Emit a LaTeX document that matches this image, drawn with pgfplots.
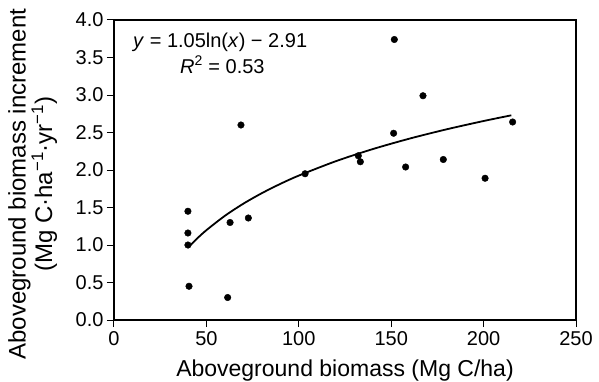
\documentclass[border=0pt]{standalone}
\usepackage{pgfplots}
\pgfplotsset{compat=1.18}
\usepackage{fontspec}
\setmainfont{Liberation Sans}
\begin{document}
\begin{tikzpicture}
\begin{axis}[
 scale only axis, width=462pt, height=300pt,
 xmin=0, xmax=250, ymin=0, ymax=4,
 xtick={0,50,...,250}, ytick={0,0.5,...,4},
 tick align=outside, tick pos=left, major tick length=7pt,
 axis line style={line width=1.1pt}, tick style={line width=1pt, black},
 ticklabel style={font=\fontsize{20}{22}\selectfont},
 xticklabel style={yshift=-1pt},
 /pgf/number format/assume math mode=true,
 yticklabel style={/pgf/number format/.cd,fixed,fixed zerofill,precision=1},
 xlabel={Aboveground biomass (Mg C/ha)},
 ylabel={Aboveground biomass increment\\(Mg C·ha\textsuperscript{−1}·yr\textsuperscript{−1})},
 xlabel style={font=\fontsize{23}{26}\selectfont, at={(axis description cs:0.5,-0.1867)}, anchor=base},
 ylabel style={font=\fontsize{24}{25}\selectfont, align=center, at={(axis description cs:-0.176,0.453)}, anchor=center},
 clip=false
]
\addplot[only marks, mark=*, mark size=3.3pt, black] coordinates {
 (40.0,1.45) (40.0,1.16) (40.0,1.00) (40.6,0.45) (61.5,0.30) (62.8,1.30)
 (72.7,1.36) (68.7,2.60) (103.4,1.95) (151.7,3.74) (167.2,2.99) (151.3,2.49)
 (132.2,2.19) (133.3,2.11) (157.8,2.04) (178.2,2.14) (200.8,1.89) (215.7,2.64)
};
\addplot[black, line width=1.8pt, smooth, no marks] coordinates {
 (40,0.9633) (45,1.0870) (50,1.1976) (60,1.3890) (70,1.5509) (80,1.6911)
 (90,1.8148) (100,1.9254) (120,2.1169) (140,2.2787) (160,2.4190)
 (180,2.5426) (200,2.6532) (215,2.7292)
};
\node[anchor=base west, font=\fontsize{20}{22}\selectfont, inner sep=0pt] at (axis cs:10.3,3.627) {\textit{y} = 1.05ln(\textit{x}) − 2.91};
\node[anchor=base west, font=\fontsize{20}{22}\selectfont, inner sep=0pt] at (axis cs:35.7,3.293) {\textit{R}\textsuperscript{2} = 0.53};
\coordinate (A) at (rel axis cs:0,0);
\coordinate (B) at (rel axis cs:1,1);
\end{axis}
\pgfresetboundingbox
\path[use as bounding box] ([shift={(-114pt,-61pt)}]A) rectangle ([shift={(23pt,20pt)}]B);
\end{tikzpicture}
\end{document}
